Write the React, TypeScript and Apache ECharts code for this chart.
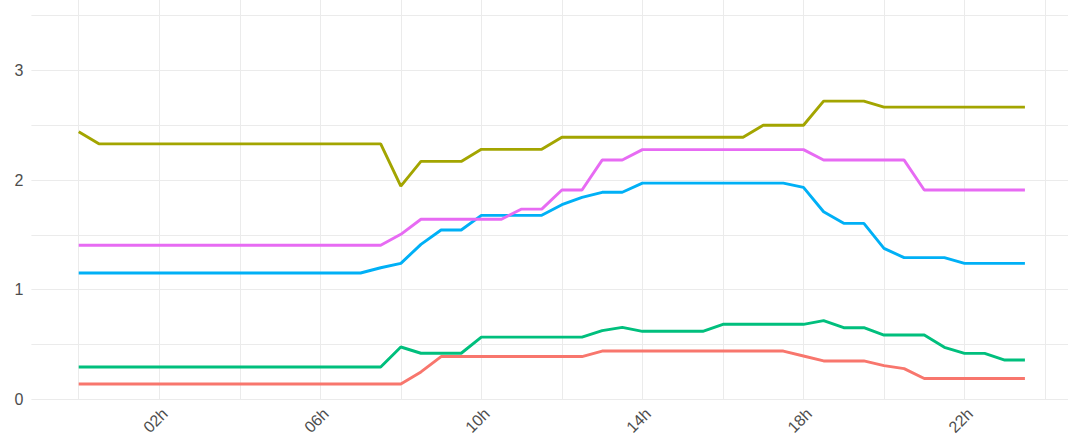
import React, { useEffect, useRef } from "react";
import * as echarts from "echarts";

const hours = [
  0, 0.5, 1, 1.5, 2, 2.5, 3, 3.5, 4, 4.5, 5, 5.5, 6, 6.5, 7, 7.5,
  8, 8.5, 9, 9.5, 10, 10.5, 11, 11.5, 12, 12.5, 13, 13.5, 14, 14.5, 15, 15.5,
  16, 16.5, 17, 17.5, 18, 18.5, 19, 19.5, 20, 20.5, 21, 21.5, 22, 22.5, 23, 23.5,
];

const seriesRed = [
  0.14, 0.14, 0.14, 0.14, 0.14, 0.14, 0.14, 0.14, 0.14, 0.14, 0.14, 0.14, 0.14, 0.14, 0.14, 0.14,
  0.14, 0.25, 0.39, 0.39, 0.39, 0.39, 0.39, 0.39, 0.39, 0.39, 0.44, 0.44, 0.44, 0.44, 0.44, 0.44,
  0.44, 0.44, 0.44, 0.44, 0.395, 0.35, 0.35, 0.35, 0.307, 0.28, 0.19, 0.19, 0.19, 0.19, 0.19, 0.19,
];

const seriesOlive = [
  2.44, 2.33, 2.33, 2.33, 2.33, 2.33, 2.33, 2.33, 2.33, 2.33, 2.33, 2.33, 2.33, 2.33, 2.33, 2.33,
  1.945, 2.17, 2.17, 2.17, 2.28, 2.28, 2.28, 2.28, 2.39, 2.39, 2.39, 2.39, 2.39, 2.39, 2.39, 2.39,
  2.39, 2.39, 2.5, 2.5, 2.5, 2.72, 2.72, 2.72, 2.665, 2.665, 2.665, 2.665, 2.665, 2.665, 2.665, 2.665,
];

const seriesGreen = [
  0.295, 0.295, 0.295, 0.295, 0.295, 0.295, 0.295, 0.295, 0.295, 0.295, 0.295, 0.295, 0.295, 0.295, 0.295, 0.295,
  0.477, 0.42, 0.42, 0.42, 0.567, 0.567, 0.567, 0.567, 0.567, 0.567, 0.626, 0.656, 0.62, 0.62, 0.62, 0.62,
  0.684, 0.684, 0.684, 0.684, 0.684, 0.717, 0.653, 0.653, 0.586, 0.586, 0.586, 0.474, 0.419, 0.419, 0.358, 0.358,
];

const seriesBlue = [
  1.152, 1.152, 1.152, 1.152, 1.152, 1.152, 1.152, 1.152, 1.152, 1.152, 1.152, 1.152, 1.152, 1.152, 1.152, 1.2,
  1.24, 1.413, 1.544, 1.544, 1.678, 1.678, 1.678, 1.678, 1.775, 1.842, 1.888, 1.888, 1.972, 1.972, 1.972, 1.972,
  1.972, 1.972, 1.972, 1.972, 1.933, 1.711, 1.605, 1.605, 1.377, 1.292, 1.292, 1.292, 1.24, 1.24, 1.24, 1.24,
];

const seriesPink = [
  1.405, 1.405, 1.405, 1.405, 1.405, 1.405, 1.405, 1.405, 1.405, 1.405, 1.405, 1.405, 1.405, 1.405, 1.405, 1.405,
  1.505, 1.642, 1.642, 1.642, 1.642, 1.642, 1.735, 1.735, 1.909, 1.909, 2.182, 2.182, 2.277, 2.277, 2.277, 2.277,
  2.277, 2.277, 2.277, 2.277, 2.277, 2.182, 2.182, 2.182, 2.182, 2.182, 1.909, 1.909, 1.909, 1.909, 1.909, 1.909,
];

const xGridHours = [0, 2, 4, 6, 8, 10, 12, 14, 16, 18, 20, 22, 24];
const xLabelHours = [2, 6, 10, 14, 18, 22];
const yGridValues = [0, 0.5, 1, 1.5, 2, 2.5, 3, 3.5];
const yLabelValues = [0, 1, 2, 3];

const seriesList = [
  { name: "A", data: seriesRed, color: "#F8766D" },
  { name: "B", data: seriesOlive, color: "#A3A500" },
  { name: "C", data: seriesGreen, color: "#00BF7D" },
  { name: "D", data: seriesBlue, color: "#00B0F6" },
  { name: "E", data: seriesPink, color: "#E76BF3" },
];

export default function App() {
  const ref = useRef<HTMLDivElement>(null);
  useEffect(() => {
    if (!ref.current) return;
    const chart = echarts.init(ref.current, null, { renderer: "svg" });
    const textStyle = {
      color: "#4D4D4D",
      fontSize: 16,
      fontFamily: "Liberation Sans, Arial, sans-serif",
    };
    chart.setOption({
      animation: false,
      backgroundColor: "#ffffff",
      grid: { left: 31.4, right: 0, top: 0, bottom: 43.7, containLabel: false },
      xAxis: {
        type: "value",
        min: -1.175,
        max: 24.57,
        axisLine: { show: false },
        axisTick: { show: false, customValues: xGridHours },
        splitLine: { show: true, lineStyle: { color: "#EBEBEB", width: 1 } },
        axisLabel: {
          ...textStyle,
          customValues: xLabelHours,
          rotate: 45,
          margin: 6,
          align: "right",
          verticalAlign: "top",
          formatter: (v: number) => (v < 10 ? "0" + v : "" + v) + "h",
        },
      },
      yAxis: {
        type: "value",
        min: 0,
        max: 3.642,
        axisLine: { show: false },
        axisTick: { show: false, customValues: yGridValues },
        splitLine: { show: true, lineStyle: { color: "#EBEBEB", width: 1 } },
        axisLabel: {
          ...textStyle,
          customValues: yLabelValues,
          margin: 8,
          formatter: (v: number) => String(v),
        },
      },
      series: seriesList.map((s) => ({
        name: s.name,
        type: "line",
        data: hours.map((h, i) => [h, s.data[i]]),
        showSymbol: false,
        symbol: "none",
        lineStyle: { color: s.color, width: 2.9 },
        itemStyle: { color: s.color },
      })),
    });
    return () => chart.dispose();
  }, []);
  return (
    <div
      ref={ref}
      style={{ position: "fixed", left: 0, top: 0, width: 1068, height: 443 }}
    />
  );
}
